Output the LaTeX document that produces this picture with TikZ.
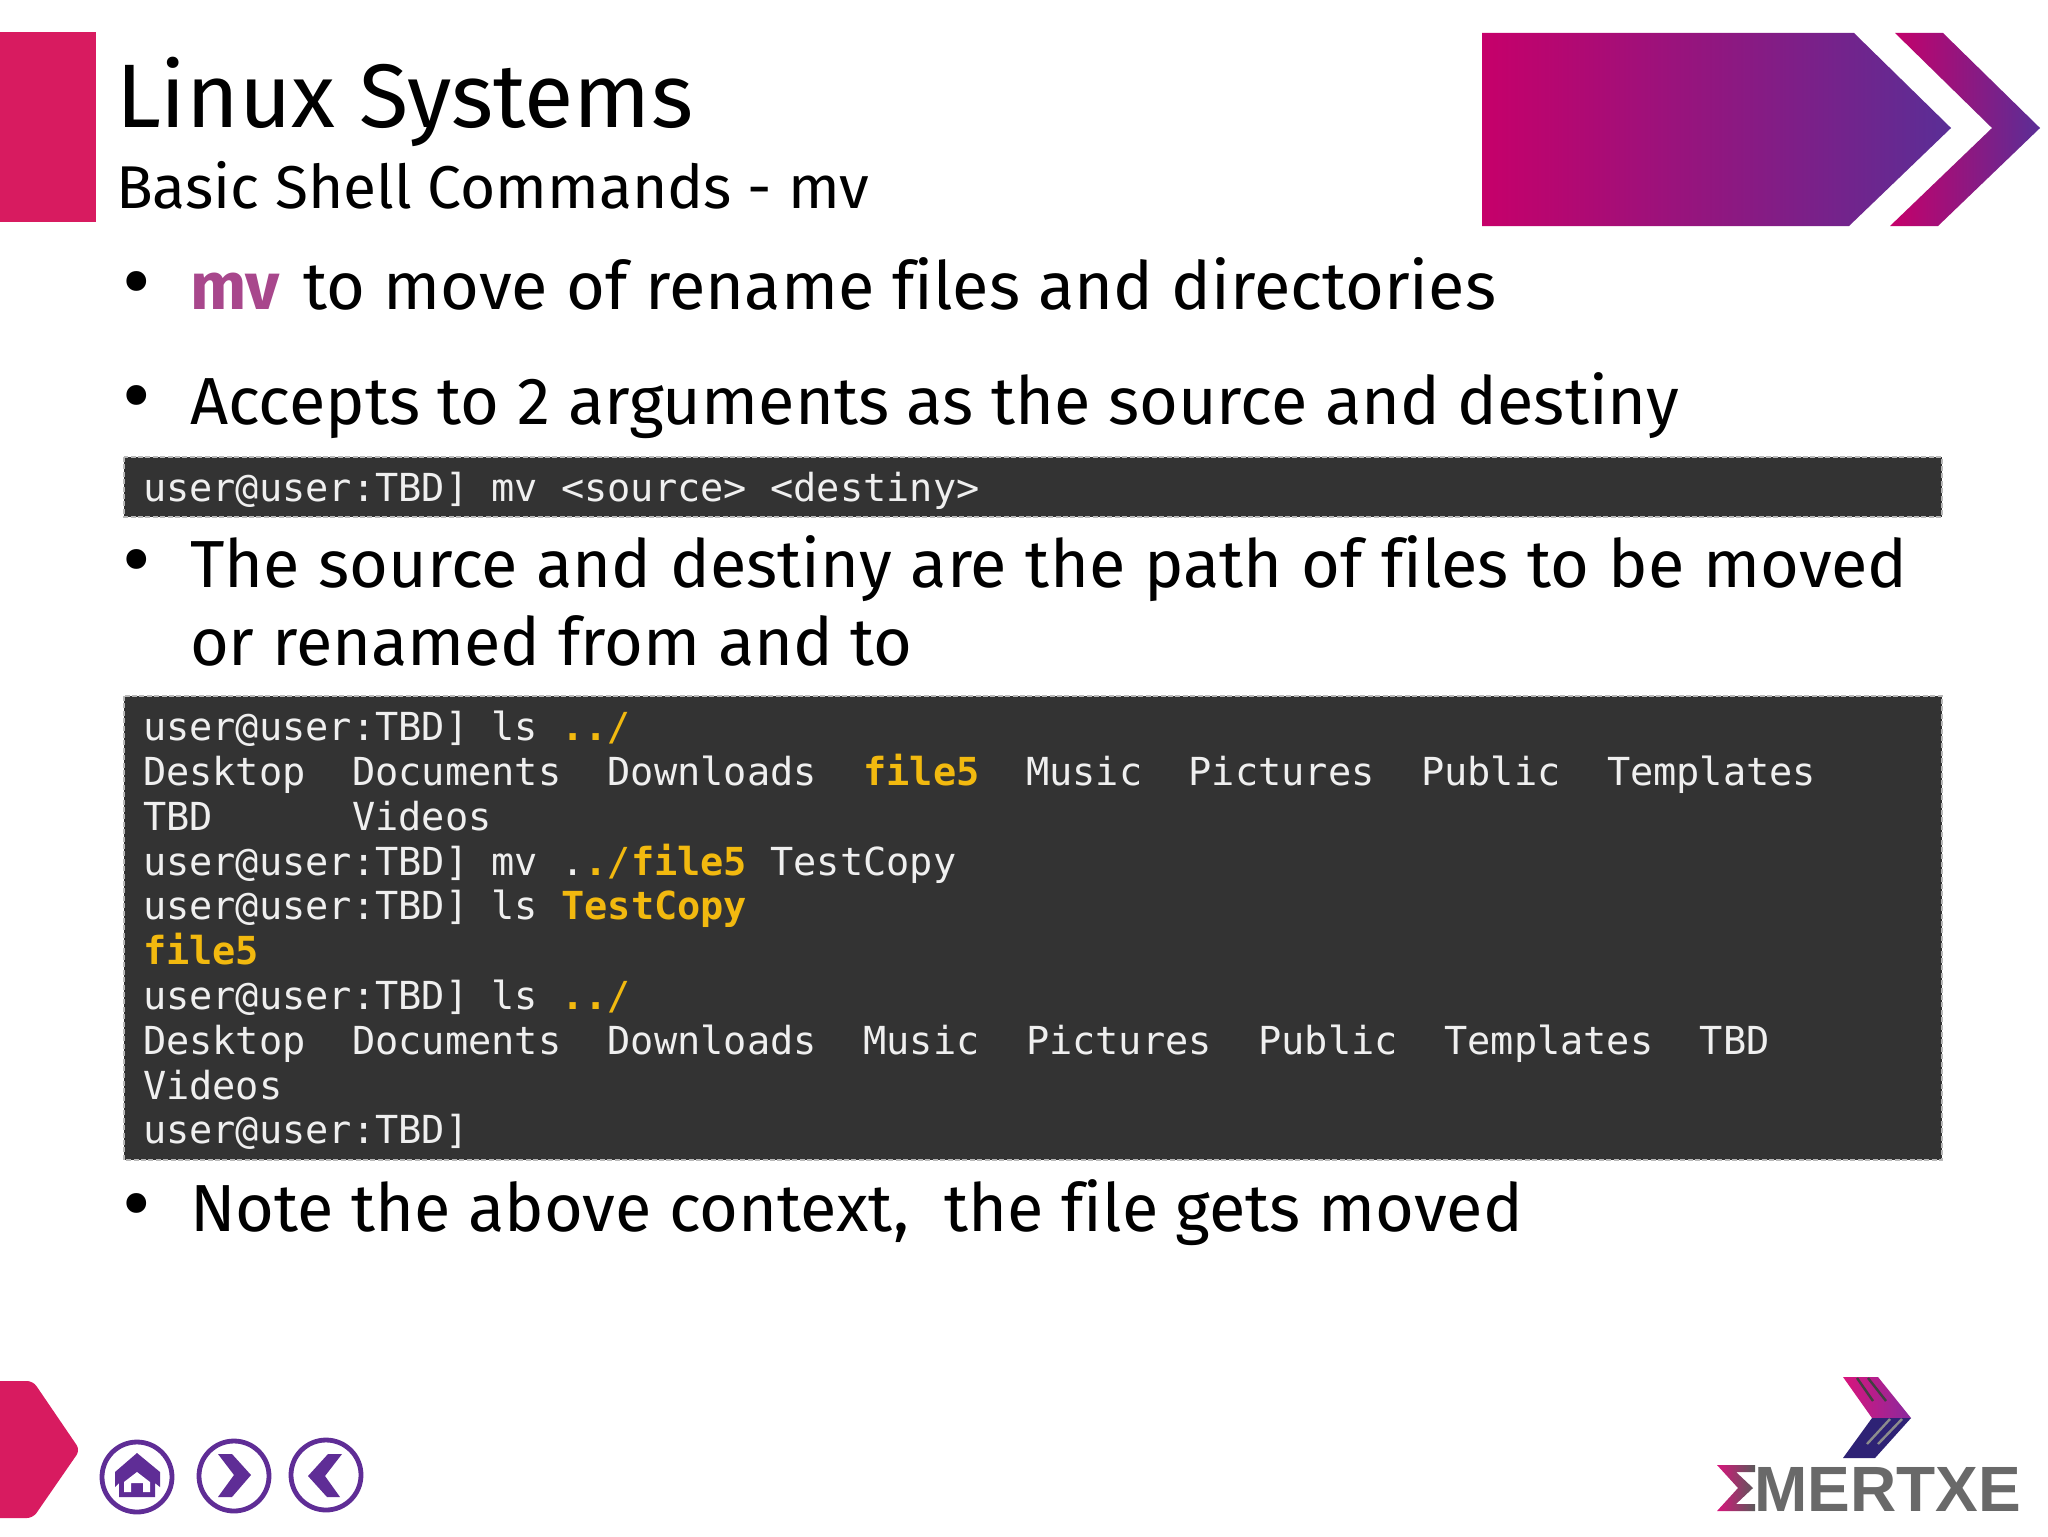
\documentclass[tikz,border=0pt]{standalone}
\usepackage{fontspec}
\setmainfont[Ligatures=NoCommon]{Fira Sans}
\newfontfamily\monof{DejaVu Sans Mono}
\newfontfamily\logof{Liberation Sans}
\definecolor{pinkbar}{HTML}{D81B60}
\definecolor{gmag}{HTML}{C6006A}
\definecolor{gmid}{HTML}{A61C80}
\definecolor{gpur}{HTML}{5A2E96}
\definecolor{navpur}{HTML}{5F2D96}
\definecolor{termbg}{HTML}{333333}
\definecolor{termfg}{HTML}{EFEFEF}
\definecolor{gold}{HTML}{F2B90F}
\definecolor{mvcol}{HTML}{A8478C}
\definecolor{logogrey}{HTML}{696969}
\definecolor{lognavy}{HTML}{2E2275}
\definecolor{logopink}{HTML}{D9147C}
\definecolor{logopur}{HTML}{8A2A9E}
\tikzset{
  every node/.style={inner sep=0pt,outer sep=0pt},
  titletext/.style={anchor=base west,font=\fontsize{45.1}{45}\selectfont},
  subtext/.style={anchor=base west,font=\fontsize{30.2}{30}\selectfont},
  bodytext/.style={anchor=base west,font=\fontsize{33.3}{33}\selectfont},
  bulletmark/.style={anchor=base,font=\fontsize{44}{44}\selectfont},
  termline/.style={anchor=base west,text=termfg,font=\monof\fontsize{19.3}{19.3}\selectfont},
  termbox/.style={fill=termbg,draw=black!28,line width=0.9pt,dash pattern=on 2.5pt off 1.2pt},
  navring/.style={draw=navpur,line width=2.4pt,fill=white},
  navicon/.style={fill=navpur},
  grad/.style={left color=gmag,middle color=gmid,right color=gpur},
}
\newcommand{\gd}[1]{\textcolor{gold}{\bfseries #1}}
\newcommand{\gp}[1]{\textcolor{gold}{#1}}
\newcommand{\widerspaces}[1]{\spaceskip=\dimexpr\fontdimen2\font+#1\relax}
\begin{document}
\begin{tikzpicture}[x=0.5pt,y=-0.5pt]
\useasboundingbox[fill=white] (0,0) rectangle (2048,1536);
% header
\fill[pinkbar] (0,32) rectangle (96,222);
\shade[grad] (1482,33) -- (1854,33) -- (1951,128) -- (1849,226) -- (1482,226) -- cycle;
\shade[grad] (1895,33) -- (1943,33) -- (2040,128) -- (1938,226) -- (1890,226) -- (1992,128) -- cycle;
\node[titletext] (title) at (116,127) {Linux Systems};
\node[subtext] (subtitle) at (116,208) {Basic Shell Commands - mv};
% bullets
\node[bulletmark] (b1) at (137,311) {•};
\node[bodytext] (t1) at (190,309) {\widerspaces{0.3pt}\textcolor{mvcol}{\bfseries mv}\kern2.5pt{} to move of rename files and directories};
\node[bulletmark] (b2) at (137,425) {•};
\node[bodytext] (t2) at (190,424) {Accepts to 2 arguments as the source and destiny};
\node[bulletmark] (b3) at (137,589) {•};
\node[bodytext] (t3) at (190,587) {\widerspaces{0.6pt}The source and destiny are the path of files to be moved};
\node[bodytext] (t3b) at (190,665) {or renamed from and to};
\node[bulletmark] (b4) at (137,1233) {•};
\node[bodytext] (t4) at (190,1231) {Note the above context,\kern9pt{} the file gets moved};
% terminals
\draw[termbox] (124,457) rectangle (1942,517);
\node[termline] (a1) at (143,501) {user@user:TBD] mv <source> <destiny>};
\draw[termbox] (124,696) rectangle (1942,1160);
\node[termline] (c1) at (143,740) {user@user:TBD] ls \gd{..}\gp{/}};
\node[termline] (c2) at (143,785) {Desktop~~Documents~~Downloads~~\gd{file5}~~Music~~Pictures~~Public~~Templates};
\node[termline] (c3) at (143,830) {TBD~~~~~~Videos};
\node[termline] (c4) at (143,875) {user@user:TBD] mv .\gd{.}\gp{/}\gd{file5}~TestCopy};
\node[termline] (c5) at (143,919) {user@user:TBD] ls \gd{TestCopy}};
\node[termline] (c6) at (143,964) {\gd{file5}};
\node[termline] (c7) at (143,1009) {user@user:TBD] ls \gd{..}\gp{/}};
\node[termline] (c8) at (143,1054) {Desktop~~Documents~~Downloads~~Music~~Pictures~~Public~~Templates~~TBD};
\node[termline] (c9) at (143,1099) {Videos};
\node[termline] (c10) at (143,1143) {user@user:TBD]};
% bottom left
\fill[pinkbar,rounded corners=3pt] (-20,1381) -- (33,1381) -- (80,1450) -- (33,1518) -- (-20,1518) -- cycle;
\draw[navring] (137,1477) circle (35);
\fill[navicon] (137,1453) -- (160,1472) -- (160,1487) -- (155,1483) -- (155,1497) -- (119,1497) -- (119,1483) -- (115,1487) -- (115,1472) -- cycle;
\fill[white] (137,1472) -- (150,1482) -- (150,1492) -- (143,1492) -- (143,1483) -- (131,1483) -- (131,1492) -- (124,1492) -- (124,1482) -- cycle;
\draw[navring] (234,1476) circle (35);
\fill[navicon] (218,1454) -- (232,1454) -- (251,1475) -- (232,1497) -- (218,1497) -- (234,1475) -- cycle;
\draw[navring] (326,1475) circle (35);
\fill[navicon] (342,1454) -- (328,1454) -- (308,1476) -- (327,1497) -- (340,1497) -- (325,1476) -- cycle;
% logo
\shade[left color=logopink,right color=logopur] (1843,1377) -- (1878,1377) -- (1911,1418) -- (1872,1418) -- cycle;
\fill[lognavy] (1872,1418) -- (1911,1418) -- (1875,1458) -- (1843,1458) -- cycle;
\draw[black!75,line width=1.2pt] (1857,1378) -- (1873,1401) (1868,1378) -- (1886,1401);
\draw[black!45,line width=1.2pt] (1890,1419) -- (1867,1444) (1902,1419) -- (1878,1444);
\shade[left color=logopink,right color=black!65] (1717,1465) -- (1755,1465) -- (1755,1472) -- (1736,1472) -- (1753,1488) -- (1736,1504) -- (1755,1504) -- (1755,1511) -- (1717,1511) -- (1738,1488) -- cycle;
\node[anchor=base west,text=logogrey,font=\logof\bfseries\fontsize{32}{32}\selectfont] (logo) at (1754,1511) {MERTXE};
\end{tikzpicture}
\end{document}
